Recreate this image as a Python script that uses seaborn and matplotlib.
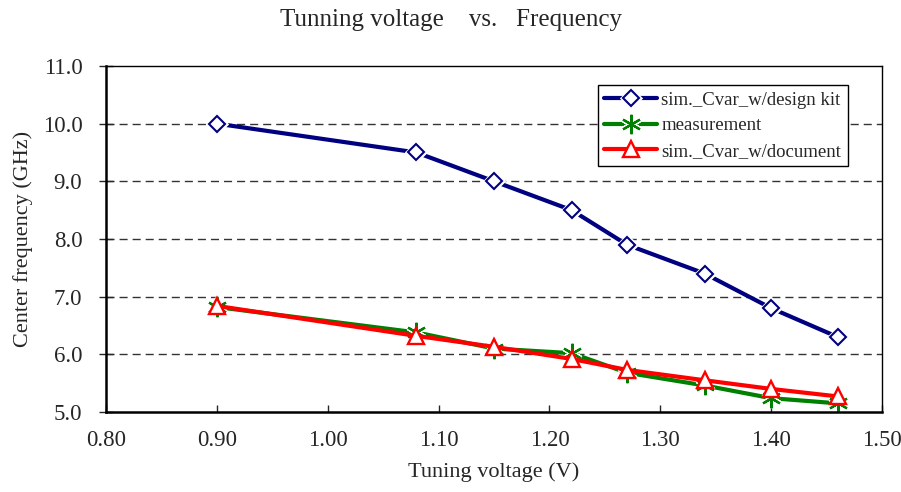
import matplotlib
matplotlib.use("Agg")
import matplotlib.pyplot as plt
import seaborn as sns
import pandas as pd

voltage = [0.90, 1.08, 1.15, 1.22, 1.27, 1.34, 1.40, 1.46]
sim_design_kit = [10.0, 9.5, 9.0, 8.5, 7.9, 7.4, 6.8, 6.3]
measurement = [6.82, 6.38, 6.10, 6.02, 5.68, 5.46, 5.24, 5.15]
sim_document = [6.84, 6.32, 6.13, 5.92, 5.73, 5.55, 5.40, 5.27]
series_names = ["sim._Cvar_w/design kit", "measurement", "sim._Cvar_w/document"]
x_ticks = [0.80, 0.90, 1.00, 1.10, 1.20, 1.30, 1.40, 1.50]
y_ticks = [5.0, 6.0, 7.0, 8.0, 9.0, 10.0, 11.0]

sns.set_theme(style="white")
plt.rcParams["font.family"] = ["Liberation Serif", "DejaVu Serif"]

df = pd.DataFrame({
    "voltage": voltage * 3,
    "freq": sim_design_kit + measurement + sim_document,
    "series": [series_names[0]] * len(voltage) + [series_names[1]] * len(voltage) + [series_names[2]] * len(voltage),
})

fig = plt.figure(figsize=(9.01, 4.92), dpi=100)
ax = fig.add_axes([0.1176, 0.1626, 0.979 - 0.1176, 0.8659 - 0.1626])

colors = {series_names[0]: "#000080", series_names[1]: "#008000", series_names[2]: "#FF0000"}
marker_styles = {
    series_names[0]: dict(marker="D", markersize=8.5, markerfacecolor="white", markeredgewidth=1.5),
    series_names[1]: dict(marker=(6, 2, 0), markersize=14, markerfacecolor="#008000", markeredgewidth=1.6),
    series_names[2]: dict(marker="^", markersize=11, markerfacecolor="white", markeredgewidth=1.7),
}
use_halo = {series_names[0]: True, series_names[1]: True, series_names[2]: False}

handles = []
for name in series_names:
    sub = df[df["series"] == name]
    c = colors[name]
    ms = marker_styles[name]
    sns.lineplot(data=sub, x="voltage", y="freq", ax=ax, color=c, linewidth=3.0, legend=False)
    parts = [ax.lines[-1]]
    if use_halo[name]:
        sns.lineplot(data=sub, x="voltage", y="freq", ax=ax, linestyle="", color="white",
                     marker=ms["marker"], markersize=ms["markersize"],
                     markerfacecolor="white", markeredgecolor="white",
                     markeredgewidth=ms["markeredgewidth"] + 2.2, legend=False)
        parts.append(ax.lines[-1])
    sns.lineplot(data=sub, x="voltage", y="freq", ax=ax, linestyle="", color=c,
                 markeredgecolor=c, legend=False, **ms)
    parts.append(ax.lines[-1])
    handles.append(tuple(parts))

ax.set_xlim(0.80, 1.50)
ax.set_ylim(5.0, 11.0)
ax.set_xticks(x_ticks)
ax.set_xticklabels([f"{v:.2f}" for v in x_ticks])
ax.set_yticks(y_ticks)
ax.set_yticklabels([f"{v:.1f}" for v in y_ticks])
for yv in y_ticks[1:-1]:
    ax.axhline(yv, color="#333333", linestyle=(0, (5.8, 3.6)), linewidth=1.0, zorder=0)

ax.tick_params(axis="x", direction="in", length=5, width=1, labelsize=16.5, pad=13, bottom=True)
ax.tick_params(axis="y", direction="inout", length=10, width=1, labelsize=16.5, pad=12, left=True)
for s in ax.spines.values():
    s.set_color("black")
    s.set_linewidth(1.0)
ax.spines["bottom"].set_linewidth(1.8)
ax.spines["left"].set_linewidth(1.8)

ax.set_xlabel("Tuning voltage (V)", fontsize=16, labelpad=8)
ax.set_ylabel("Center frequency (GHz)", fontsize=16, labelpad=7)
fig.suptitle("Tunning voltage    vs.   Frequency", fontsize=18, y=0.982)

leg = ax.legend(handles, series_names, loc="upper right", bbox_to_anchor=(0.956, 0.945),
                fontsize=13.5, frameon=True, fancybox=False, edgecolor="black", framealpha=1.0,
                handlelength=2.8, handletextpad=0.25, borderpad=0.35, labelspacing=0.45,
                borderaxespad=0)
leg.get_frame().set_linewidth(1.0)

fig.savefig("out.png", dpi=100)
